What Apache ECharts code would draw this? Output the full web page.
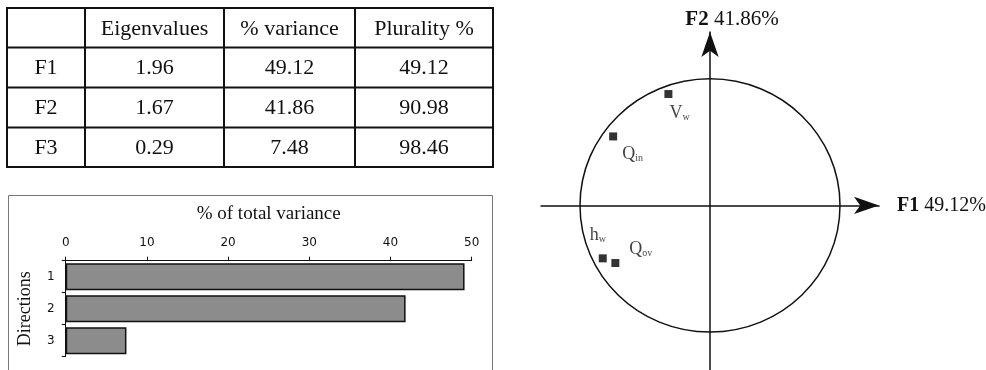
<!DOCTYPE html>
<html>
<head>
<meta charset="utf-8">
<script src="https://cdn.jsdelivr.net/npm/echarts@6/dist/echarts.min.js"></script>
<style>
html,body{margin:0;padding:0;background:#fff;}
#c{width:986px;height:370px;}
</style>
</head>
<body>
<div id="c"></div>
<script>
// ---------- DATA ----------
var tableHeaders = ['', 'Eigenvalues', '% variance', 'Plurality %'];
var factors = ['F1', 'F2', 'F3'];
var eigenvalues = ['1.96', '1.67', '0.29'];
var pctVariance = [49.12, 41.86, 7.48];
var cumulative = ['49.12', '90.98', '98.46'];
var directions = ['1', '2', '3'];
var barTicks = [0, 10, 20, 30, 40, 50];

var varMain = ['V', 'Q', 'h', 'Q'];
var varSub = ['w', 'in', 'w', 'ov'];
var f1Coord = [-0.32, -0.745, -0.825, -0.728];
var f2Coord = [0.88, 0.545, -0.418, -0.455];
var circleRadius = [1];

var f1Label = ['F1', ' 49.12%'];
var f2Label = ['F2', ' 41.86%'];

// ---------- LAYOUT ----------
var SERIF = '"Liberation Serif", "Times New Roman", serif';
var SANS = '"DejaVu Sans", Verdana, sans-serif';
var colX = [7, 85, 224, 355, 493];
var rowY = [8, 47.5, 87.5, 127.5, 167];
var labelPlace = [[5, 22], [13, 21], [-9, -20], [18, -11]];

var graphics = [];
// table lines
for (var i = 0; i < colX.length; i++) {
  graphics.push({type: 'line', shape: {x1: colX[i], y1: rowY[0], x2: colX[i], y2: rowY[rowY.length - 1]},
    style: {stroke: '#111', lineWidth: 2}});
}
for (var j = 0; j < rowY.length; j++) {
  graphics.push({type: 'line', shape: {x1: colX[0] - 1, y1: rowY[j], x2: colX[colX.length - 1] + 1, y2: rowY[j]},
    style: {stroke: '#111', lineWidth: 2}});
}
function cell(text, ci, ri) {
  graphics.push({type: 'text', x: (colX[ci] + colX[ci + 1]) / 2, y: (rowY[ri] + rowY[ri + 1]) / 2 + 1,
    style: {text: text, font: '22px ' + SERIF, fill: '#111', textAlign: 'center', textVerticalAlign: 'middle'}});
}
tableHeaders.forEach(function (h, ci) { cell(h, ci, 0); });
factors.forEach(function (f, ri) {
  cell(f, 0, ri + 1);
  cell(eigenvalues[ri], 1, ri + 1);
  cell(pctVariance[ri].toFixed(2), 2, ri + 1);
  cell(cumulative[ri], 3, ri + 1);
});
// bar panel frame
graphics.push({type: 'rect', shape: {x: 8.5, y: 195.5, width: 484, height: 200},
  style: {fill: 'none', stroke: '#777', lineWidth: 1}});

var scatterData = f1Coord.map(function (x, k) {
  return {
    value: [x, f2Coord[k]],
    name: varMain[k] + varSub[k],
    label: {position: labelPlace[k]},
    lab: '{m|' + varMain[k] + '}{s|' + varSub[k] + '}'
  };
});

var chart = echarts.init(document.getElementById('c'), null, {renderer: 'canvas'});
chart.setOption({
  backgroundColor: '#fff',
  animation: false,
  graphic: graphics,
  grid: [
    {left: 65.7, top: 260.7, width: 406, height: 96, containLabel: false, outerBoundsMode: 'none'},
    {left: 541, top: 32, width: 338, height: 338, containLabel: false, outerBoundsMode: 'none'}
  ],
  xAxis: [
    {
      gridIndex: 0, type: 'value', position: 'top', min: barTicks[0], max: barTicks[barTicks.length - 1], interval: 10,
      name: '% of total variance', nameLocation: 'middle', nameGap: 37,
      nameTextStyle: {fontFamily: SERIF, fontSize: 19, color: '#111'},
      axisLine: {show: true, lineStyle: {color: '#111', width: 1}},
      axisTick: {show: true, length: 4, lineStyle: {color: '#111'}},
      axisLabel: {fontFamily: SANS, fontSize: 12, color: '#111', margin: 12},
      splitLine: {show: false}
    },
    {
      gridIndex: 1, type: 'value', min: -1.3, max: 1.3,
      name: '{b|' + f1Label[0] + '}{r|' + f1Label[1] + '}', nameLocation: 'end', nameGap: 18,
      nameTextStyle: {rich: {
        b: {fontFamily: SERIF, fontSize: 20, fontWeight: 'bold', color: '#111'},
        r: {fontFamily: SERIF, fontSize: 20, color: '#111'}}},
      axisLine: {show: true, onZero: true, symbol: ['none', 'arrow'], symbolSize: [13, 25], lineStyle: {color: '#111', width: 1.5}},
      axisTick: {show: false}, axisLabel: {show: false}, splitLine: {show: false}
    }
  ],
  yAxis: [
    {
      gridIndex: 0, type: 'category', data: directions, inverse: true,
      name: 'Directions', nameLocation: 'middle', nameGap: 31, nameRotate: 90,
      nameTextStyle: {fontFamily: SERIF, fontSize: 18, color: '#111'},
      axisLine: {show: true, lineStyle: {color: '#111', width: 1}},
      axisTick: {show: true, length: 4, lineStyle: {color: '#111'}},
      axisLabel: {fontFamily: SANS, fontSize: 12, color: '#111', margin: 11},
      splitLine: {show: false}
    },
    {
      gridIndex: 1, type: 'value', min: -1.3, max: 1.37,
      name: '{b|' + f2Label[0] + '}{r|' + f2Label[1] + '}', nameLocation: 'end', nameGap: 2,
      nameTextStyle: {padding: [0, 0, 0, 44], rich: {
        b: {fontFamily: SERIF, fontSize: 21, fontWeight: 'bold', color: '#111'},
        r: {fontFamily: SERIF, fontSize: 21, color: '#111'}}},
      axisLine: {show: true, onZero: true, symbol: ['none', 'arrow'], symbolSize: [13, 25], lineStyle: {color: '#111', width: 1.5}},
      axisTick: {show: false}, axisLabel: {show: false}, splitLine: {show: false}
    }
  ],
  series: [
    {
      type: 'bar', xAxisIndex: 0, yAxisIndex: 0, data: pctVariance,
      barCategoryGap: '16%',
      itemStyle: {color: '#8c8c8c', borderColor: '#111', borderWidth: 1.5}
    },
    {
      type: 'custom', xAxisIndex: 1, yAxisIndex: 1, data: [[0, 0, circleRadius[0]]],
      renderItem: function (params, api) {
        var c = api.coord([api.value(0), api.value(1)]);
        var s = api.size([api.value(2), api.value(2)]);
        return {type: 'ellipse', shape: {cx: c[0], cy: c[1], rx: s[0], ry: s[1]},
          style: {fill: 'none', stroke: '#111', lineWidth: 1.5}, silent: true};
      },
      z: 1
    },
    {
      type: 'scatter', xAxisIndex: 1, yAxisIndex: 1, data: scatterData,
      symbol: 'rect', symbolSize: 8, itemStyle: {color: '#000'}, z: 3,
      label: {
        show: true, align: 'left', verticalAlign: 'middle',
        formatter: function (p) { return p.data.lab; },
        rich: {
          m: {fontFamily: SERIF, fontSize: 18, color: '#111', verticalAlign: 'bottom', lineHeight: 20},
          s: {fontFamily: SERIF, fontSize: 10, color: '#111', verticalAlign: 'bottom', lineHeight: 14, padding: [0, 0, 0, 0]}
        }
      }
    }
  ]
});
</script>
</body>
</html>
